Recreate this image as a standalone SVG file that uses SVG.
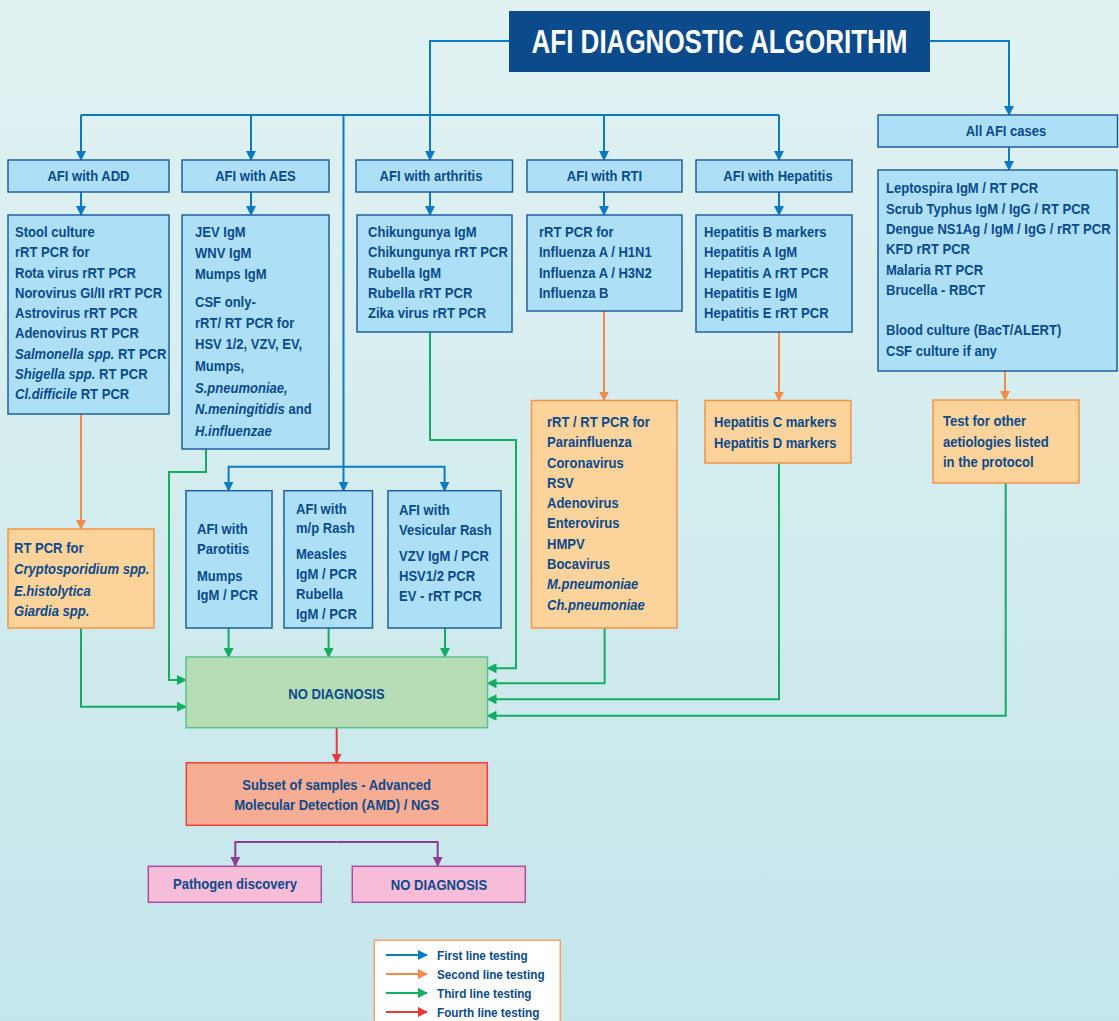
<svg xmlns="http://www.w3.org/2000/svg" width="1119" height="1021" viewBox="0 0 1119 1021">
<defs>
<linearGradient id="bg" x1="0" y1="0" x2="0" y2="1">
<stop offset="0" stop-color="#e2f2f2"/>
<stop offset="1" stop-color="#c4e6eb"/>
</linearGradient>
<marker id="aB" markerUnits="userSpaceOnUse" markerWidth="10" markerHeight="10" refX="9" refY="5" orient="auto"><path d="M0,0 L10,5 L0,10 z" fill="#0a7bc2"/></marker>
<marker id="aO" markerUnits="userSpaceOnUse" markerWidth="10" markerHeight="10" refX="9" refY="5" orient="auto"><path d="M0,0 L10,5 L0,10 z" fill="#f38a4a"/></marker>
<marker id="aG" markerUnits="userSpaceOnUse" markerWidth="10" markerHeight="10" refX="9" refY="5" orient="auto"><path d="M0,0 L10,5 L0,10 z" fill="#12af62"/></marker>
<marker id="aR" markerUnits="userSpaceOnUse" markerWidth="10" markerHeight="10" refX="9" refY="5" orient="auto"><path d="M0,0 L10,5 L0,10 z" fill="#e8393a"/></marker>
<marker id="aP" markerUnits="userSpaceOnUse" markerWidth="10" markerHeight="10" refX="9" refY="5" orient="auto"><path d="M0,0 L10,5 L0,10 z" fill="#8e3b98"/></marker>
</defs>
<style>
text{font-family:"Liberation Sans",Arial,sans-serif;font-weight:bold;font-size:15px;fill:#0b4a8b;transform-box:fill-box;transform-origin:left center;transform:scaleX(0.87)}
.c{text-anchor:middle;transform-origin:center}
.i{font-style:italic}
.lg{font-size:13.5px}
.title{fill:#ffffff;font-size:33px;transform:none}
.blue{fill:#ade0f7;stroke:#1f5f9f;stroke-width:1.5}
.orng{fill:#fdd39c;stroke:#f49447;stroke-width:1.5}
.grn{fill:#b6ddb6;stroke:#5cc28a;stroke-width:1.5}
.red{fill:#f7ad93;stroke:#e8413c;stroke-width:1.5}
.pink{fill:#f6bcd8;stroke:#a550a5;stroke-width:1.5}
.lB{fill:none;stroke:#0a7bc2;stroke-width:2}
.lO{fill:none;stroke:#f38a4a;stroke-width:2}
.lG{fill:none;stroke:#12af62;stroke-width:2}
.lR{fill:none;stroke:#e8393a;stroke-width:2}
.lP{fill:none;stroke:#8e3b98;stroke-width:2}
</style>
<rect x="0" y="0" width="1119" height="1021" fill="url(#bg)"/>

<g id="connectors">
<path class="lB" d="M81,115 H779"/>
<path class="lB" d="M509,41 H430 V160" marker-end="url(#aB)"/>
<path class="lB" d="M930,41 H1009 V115" marker-end="url(#aB)"/>
<path class="lB" d="M81,115 V160" marker-end="url(#aB)"/>
<path class="lB" d="M251,115 V160" marker-end="url(#aB)"/>
<path class="lB" d="M604,115 V160" marker-end="url(#aB)"/>
<path class="lB" d="M779,115 V160" marker-end="url(#aB)"/>
<path class="lB" d="M343.5,115 V490.7" marker-end="url(#aB)"/>
<path class="lB" d="M343.5,466.7 H228.6 V490.7" marker-end="url(#aB)"/>
<path class="lB" d="M343.5,466.7 H444.6 V490.7" marker-end="url(#aB)"/>
<path class="lB" d="M81,192 V215" marker-end="url(#aB)"/>
<path class="lB" d="M251,192 V215" marker-end="url(#aB)"/>
<path class="lB" d="M430,192 V215" marker-end="url(#aB)"/>
<path class="lB" d="M604,192 V215" marker-end="url(#aB)"/>
<path class="lB" d="M779,192 V215" marker-end="url(#aB)"/>
<path class="lB" d="M1009,147 V170" marker-end="url(#aB)"/>

<path class="lO" d="M81,414 V529" marker-end="url(#aO)"/>
<path class="lO" d="M604,311 V400.5" marker-end="url(#aO)"/>
<path class="lO" d="M779,332 V400.5" marker-end="url(#aO)"/>
<path class="lO" d="M1005,371 V400" marker-end="url(#aO)"/>

<path class="lG" d="M81,628 V706.7 H186" marker-end="url(#aG)"/>
<path class="lG" d="M206,449 V472 H169 V680 H186" marker-end="url(#aG)"/>
<path class="lG" d="M228.6,628 V657" marker-end="url(#aG)"/>
<path class="lG" d="M328.6,628 V657" marker-end="url(#aG)"/>
<path class="lG" d="M445,628 V657" marker-end="url(#aG)"/>
<path class="lG" d="M430,332 V440 H516 V668.3 H487.5" marker-end="url(#aG)"/>
<path class="lG" d="M604.6,628 V683.3 H487.5" marker-end="url(#aG)"/>
<path class="lG" d="M779,463 V699.3 H487.5" marker-end="url(#aG)"/>
<path class="lG" d="M1005.7,483 V715.7 H487.5" marker-end="url(#aG)"/>

<path class="lR" d="M336.7,728 V762.7" marker-end="url(#aR)"/>

<path class="lP" d="M336.5,842 H235.3 V866" marker-end="url(#aP)"/>
<path class="lP" d="M336.5,842 H437.7 V866" marker-end="url(#aP)"/>
</g>

<g id="title">
<rect x="509" y="11" width="421" height="61" fill="#0b4a8b"/>
<text class="title c" x="719.5" y="53" textLength="376" lengthAdjust="spacingAndGlyphs">AFI DIAGNOSTIC ALGORITHM</text>
</g>

<g id="add-label"><rect class="blue" x="8" y="160" width="161" height="32"/><text class="c" x="88.5" y="181.5">AFI with ADD</text></g>
<g id="aes-label"><rect class="blue" x="182" y="160" width="147" height="32"/><text class="c" x="255.5" y="181.5">AFI with AES</text></g>
<g id="arthritis-label"><rect class="blue" x="356" y="160" width="156.5" height="32"/><text class="c" x="431" y="181.5">AFI with arthritis</text></g>
<g id="rti-label"><rect class="blue" x="527" y="160" width="155" height="32"/><text class="c" x="604.5" y="181.5">AFI with RTI</text></g>
<g id="hepatitis-label"><rect class="blue" x="696" y="160" width="156" height="32"/><text class="c" x="778" y="181.5">AFI with Hepatitis</text></g>
<g id="all-label"><rect class="blue" x="878" y="115" width="239.5" height="32"/><text class="c" x="1006" y="136.5">All AFI cases</text></g>

<g id="add-tests"><rect class="blue" x="8" y="215" width="161" height="199"/>
<text x="15" y="237">Stool culture</text>
<text x="15" y="257.3">rRT PCR for</text>
<text x="15" y="277.6">Rota virus rRT PCR</text>
<text x="15" y="297.9">Norovirus GI/II rRT PCR</text>
<text x="15" y="318.2">Astrovirus rRT PCR</text>
<text x="15" y="338.5">Adenovirus RT PCR</text>
<text x="15" y="358.8"><tspan class="i">Salmonella spp.</tspan> RT PCR</text>
<text x="15" y="379.1"><tspan class="i">Shigella spp.</tspan> RT PCR</text>
<text x="15" y="399.4"><tspan class="i">Cl.difficile</tspan> RT PCR</text>
</g>

<g id="aes-tests"><rect class="blue" x="182" y="215" width="147" height="234"/>
<text x="195" y="237">JEV IgM</text>
<text x="195" y="258">WNV IgM</text>
<text x="195" y="279">Mumps IgM</text>
<text x="195" y="307">CSF only-</text>
<text x="195" y="328">rRT/ RT PCR for</text>
<text x="195" y="349">HSV 1/2, VZV, EV,</text>
<text x="195" y="371">Mumps,</text>
<text x="195" y="393" class="i">S.pneumoniae,</text>
<text x="195" y="414.5"><tspan class="i">N.meningitidis</tspan> and</text>
<text x="195" y="436" class="i">H.influenzae</text>
</g>

<g id="arthritis-tests"><rect class="blue" x="357" y="215" width="155" height="117"/>
<text x="368" y="237">Chikungunya IgM</text>
<text x="368" y="257.3">Chikungunya rRT PCR</text>
<text x="368" y="277.6">Rubella IgM</text>
<text x="368" y="297.9">Rubella rRT PCR</text>
<text x="368" y="318.2">Zika virus rRT PCR</text>
</g>

<g id="rti-tests"><rect class="blue" x="527" y="215" width="155" height="96"/>
<text x="539" y="237">rRT PCR for</text>
<text x="539" y="257.3">Influenza A / H1N1</text>
<text x="539" y="277.6">Influenza A / H3N2</text>
<text x="539" y="297.9">Influenza B</text>
</g>

<g id="hepatitis-tests"><rect class="blue" x="696" y="215" width="156" height="117"/>
<text x="704" y="237">Hepatitis B markers</text>
<text x="704" y="257.3">Hepatitis A IgM</text>
<text x="704" y="277.6">Hepatitis A rRT PCR</text>
<text x="704" y="297.9">Hepatitis E IgM</text>
<text x="704" y="318.2">Hepatitis E rRT PCR</text>
</g>

<g id="all-tests"><rect class="blue" x="878" y="170" width="239" height="201"/>
<text x="886" y="193.5">Leptospira IgM / RT PCR</text>
<text x="886" y="213.8">Scrub Typhus IgM / IgG / RT PCR</text>
<text x="886" y="234.1">Dengue NS1Ag / IgM / IgG / rRT PCR</text>
<text x="886" y="254.4">KFD rRT PCR</text>
<text x="886" y="274.7">Malaria RT PCR</text>
<text x="886" y="295">Brucella - RBCT</text>
<text x="886" y="335.5">Blood culture (BacT/ALERT)</text>
<text x="886" y="355.8">CSF culture if any</text>
</g>

<g id="rti-second"><rect class="orng" x="531.5" y="400.5" width="145.5" height="227.5"/>
<text x="547" y="427">rRT / RT PCR for</text>
<text x="547" y="447.3">Parainfluenza</text>
<text x="547" y="467.6">Coronavirus</text>
<text x="547" y="487.9">RSV</text>
<text x="547" y="508.2">Adenovirus</text>
<text x="547" y="528.5">Enterovirus</text>
<text x="547" y="548.8">HMPV</text>
<text x="547" y="569.1">Bocavirus</text>
<text x="547" y="589.4" class="i">M.pneumoniae</text>
<text x="547" y="610" class="i">Ch.pneumoniae</text>
</g>

<g id="hepatitis-second"><rect class="orng" x="705" y="400.5" width="146" height="62.5"/>
<text x="714" y="427.5">Hepatitis C markers</text>
<text x="714" y="447.8">Hepatitis D markers</text>
</g>

<g id="other-second"><rect class="orng" x="933" y="400" width="146" height="83"/>
<text x="943" y="426.5">Test for other</text>
<text x="943" y="446.8">aetiologies listed</text>
<text x="943" y="467.1">in the protocol</text>
</g>

<g id="add-second"><rect class="orng" x="8" y="529" width="146" height="99"/>
<text x="14" y="553.5">RT PCR for</text>
<text x="14" y="574.5" class="i">Cryptosporidium spp.</text>
<text x="14" y="596" class="i">E.histolytica</text>
<text x="14" y="616.5" class="i">Giardia spp.</text>
</g>

<g id="parotitis"><rect class="blue" x="186" y="490.7" width="86" height="137.3"/>
<text x="197" y="534.5">AFI with</text>
<text x="197" y="554.5">Parotitis</text>
<text x="197" y="581">Mumps</text>
<text x="197" y="600.5">IgM / PCR</text>
</g>

<g id="mp-rash"><rect class="blue" x="284" y="490.7" width="88.5" height="137.3"/>
<text x="296" y="513.5">AFI with</text>
<text x="296" y="533.5">m/p Rash</text>
<text x="296" y="559">Measles</text>
<text x="296" y="579">IgM / PCR</text>
<text x="296" y="599">Rubella</text>
<text x="296" y="619">IgM / PCR</text>
</g>

<g id="vesicular-rash"><rect class="blue" x="388" y="490.7" width="113" height="137.3"/>
<text x="399" y="515">AFI with</text>
<text x="399" y="535.5">Vesicular Rash</text>
<text x="399" y="561.5">VZV IgM / PCR</text>
<text x="399" y="581.5">HSV1/2 PCR</text>
<text x="399" y="601.5">EV - rRT PCR</text>
</g>

<g id="no-diagnosis"><rect class="grn" x="186" y="657" width="301.5" height="70.7"/>
<text class="c" x="336.5" y="699.5">NO DIAGNOSIS</text>
</g>

<g id="amd"><rect class="red" x="186.3" y="762.7" width="301" height="62.6"/>
<text class="c" x="336.7" y="789.8">Subset of samples - Advanced</text>
<text class="c" x="336.7" y="809.8">Molecular Detection (AMD) / NGS</text>
</g>

<g id="pathogen-discovery"><rect class="pink" x="148.3" y="866.3" width="173" height="36"/>
<text class="c" x="235" y="889">Pathogen discovery</text>
</g>

<g id="no-diagnosis-final"><rect class="pink" x="352.3" y="866.3" width="173" height="36"/>
<text class="c" x="439" y="890">NO DIAGNOSIS</text>
</g>

<g id="legend"><rect x="374.3" y="940.3" width="186" height="95" fill="#ffffff" stroke="#f4a261" stroke-width="1.5"/>
<path class="lB" d="M386,955 H427" marker-end="url(#aB)"/>
<path class="lO" d="M386,974 H427" marker-end="url(#aO)"/>
<path class="lG" d="M386,993 H427" marker-end="url(#aG)"/>
<path class="lR" d="M386,1012 H427" marker-end="url(#aR)"/>
<text class="lg" x="437" y="960">First line testing</text>
<text class="lg" x="437" y="979">Second line testing</text>
<text class="lg" x="437" y="998">Third line testing</text>
<text class="lg" x="437" y="1017">Fourth line testing</text>
</g>
</svg>
